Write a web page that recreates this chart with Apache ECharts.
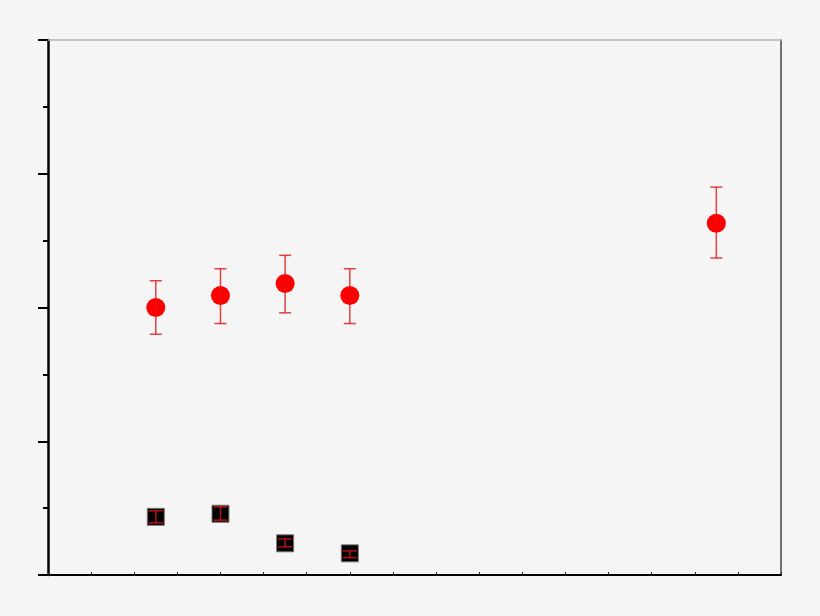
<!DOCTYPE html>
<html><head><meta charset="utf-8">
<script src="https://cdn.jsdelivr.net/npm/echarts@6/dist/echarts.min.js"></script>
<style>html,body{margin:0;padding:0;background:#f5f5f5;}#c{width:820px;height:616px;}</style>
</head><body><div id="c"></div>
<script>
const circleX = [2.5, 4, 5.5, 7, 15.5];
const circleY = [2.00, 2.09, 2.18, 2.09, 2.63];
const circleLo = [1.80, 1.88, 1.96, 1.88, 2.37];
const circleHi = [2.20, 2.29, 2.39, 2.29, 2.90];
const squareX = [2.5, 4, 5.5, 7];
const squareY = [0.435, 0.458, 0.237, 0.162];
const squareLo = [0.39, 0.41, 0.21, 0.13];
const squareHi = [0.48, 0.51, 0.27, 0.18];

const chart = echarts.init(document.getElementById('c'));
function errBars(xs, lo, hi, cap) {
  return {
    type: 'custom', z: 10, silent: true,
    data: xs.map((x, i) => [x, lo[i], hi[i]]),
    renderItem: function (params, api) {
      const a = api.coord([api.value(0), api.value(1)]);
      const b = api.coord([api.value(0), api.value(2)]);
      const st = { stroke: 'rgba(225,20,20,0.8)', lineWidth: 1.5 };
      return { type: 'group', children: [
        { type: 'line', shape: { x1: a[0], y1: a[1], x2: b[0], y2: b[1] }, style: st },
        { type: 'line', shape: { x1: a[0] - cap, y1: a[1], x2: a[0] + cap, y2: a[1] }, style: st },
        { type: 'line', shape: { x1: b[0] - cap, y1: b[1], x2: b[0] + cap, y2: b[1] }, style: st }
      ]};
    }
  };
}
chart.setOption({
  animation: false,
  backgroundColor: '#f5f5f5',
  grid: { left: 48, right: 39, top: 40, bottom: 41 },
  xAxis: [
    { type: 'value', min: 0, max: 17, interval: 1, position: 'bottom',
      axisLine: { onZero: false, lineStyle: { color: '#000', width: 2 } },
      axisTick: { show: true, inside: true, length: 3, lineStyle: { color: '#222', width: 1 } },
      axisLabel: { show: false }, splitLine: { show: false } },
    { type: 'value', min: 0, max: 17, position: 'top',
      axisLine: { show: true, onZero: false, lineStyle: { color: '#b4b4b4', width: 1.5 } },
      axisTick: { show: false }, axisLabel: { show: false }, splitLine: { show: false } }
  ],
  yAxis: [
    { type: 'value', min: 0, max: 4, interval: 1, position: 'left',
      axisLine: { show: true, onZero: false, lineStyle: { color: '#000', width: 2.5 } },
      axisTick: { show: true, inside: false, length: 10, lineStyle: { color: '#000', width: 2 } },
      minorTick: { show: true, splitNumber: 2, length: 5, lineStyle: { color: '#000', width: 2 } },
      axisLabel: { show: false }, splitLine: { show: false } },
    { type: 'value', min: 0, max: 4, position: 'right',
      axisLine: { show: true, onZero: false, lineStyle: { color: '#444', width: 1.5 } },
      axisTick: { show: false }, axisLabel: { show: false }, splitLine: { show: false } }
  ],
  series: [
    { type: 'scatter', symbol: 'rect', symbolSize: 17, z: 3,
      itemStyle: { color: '#000', borderColor: '#777', borderWidth: 1, opacity: 1 },
      data: squareX.map((x, i) => [x, squareY[i]]) },
    { type: 'scatter', symbol: 'circle', symbolSize: 19, z: 4,
      itemStyle: { color: '#ff0000', opacity: 1 },
      data: circleX.map((x, i) => [x, circleY[i]]) },
    errBars(circleX, circleLo, circleHi, 6),
    errBars(squareX, squareLo, squareHi, 7)
  ]
});
</script></body></html>
